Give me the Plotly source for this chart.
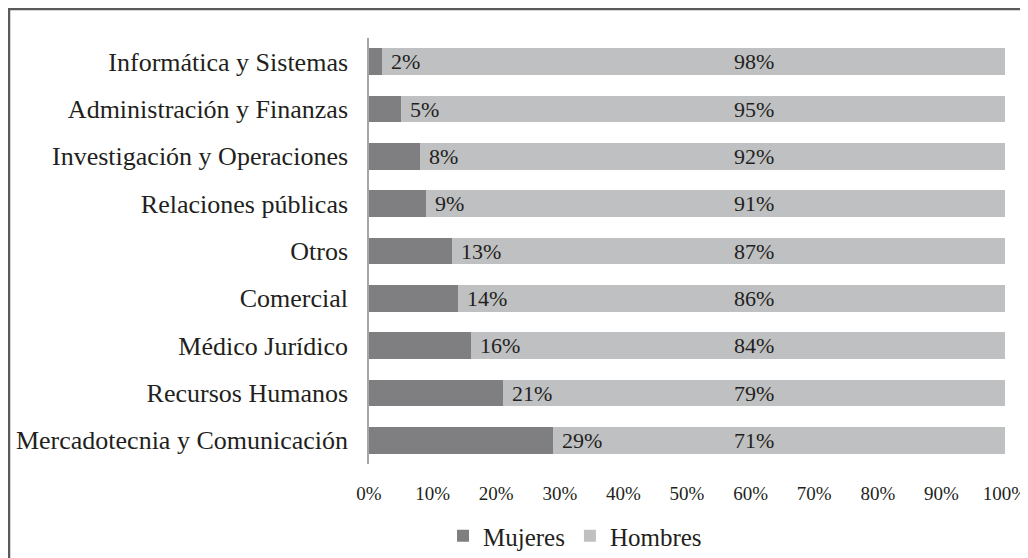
import plotly.graph_objects as go

categories = ["Informática y Sistemas", "Administración y Finanzas", "Investigación y Operaciones",
              "Relaciones públicas", "Otros", "Comercial", "Médico Jurídico", "Recursos Humanos",
              "Mercadotecnia y Comunicación"]
mujeres = [2, 5, 8, 9, 13, 14, 16, 21, 29]
hombres = [98, 95, 92, 91, 87, 86, 84, 79, 71]
tick_vals = [0, 10, 20, 30, 40, 50, 60, 70, 80, 90, 100]
tick_text = [f"{v}%" for v in tick_vals]

FONT = "Liberation Serif"
TXT = "#231f20"
C_M = "#7f7f81"
C_H = "#bfc0c2"
OFF = 8  # page body margin
W, H = 1028 - OFF, 558 - OFF
L, R, T, B = 369 - OFF, 23, 38 - OFF, 94
HOMBRES_LABEL_X = 60.5

fig = go.Figure()
fig.add_trace(go.Bar(y=categories, x=mujeres, name="Mujeres", orientation="h",
                     marker=dict(color=C_M, line_width=0)))
fig.add_trace(go.Bar(y=categories, x=hombres, name="Hombres", orientation="h",
                     marker=dict(color=C_H, line_width=0)))

ann = []
for c, m, h in zip(categories, mujeres, hombres):
    ann.append(dict(x=m, y=c, text=f"{m}%", showarrow=False, xanchor="left", xshift=7,
                    font=dict(family=FONT, size=22, color=TXT)))
    ann.append(dict(x=HOMBRES_LABEL_X, y=c, text=f"{h}%", showarrow=False, xanchor="center",
                    font=dict(family=FONT, size=22, color=TXT)))

pw = W - L - R
ph = H - T - B
fig.update_layout(
    width=W, height=H,
    margin=dict(l=L, r=R, t=T, b=B, autoexpand=False),
    barmode="stack", bargap=0.43,
    plot_bgcolor="white", paper_bgcolor="white",
    font=dict(family=FONT, color=TXT),
    annotations=ann,
    xaxis=dict(range=[0, 100], tickvals=tick_vals, ticktext=tick_text, showgrid=False, automargin=False,
               zeroline=False, showline=False, ticks="outside", ticklen=12, tickcolor="rgba(0,0,0,0)",
               tickfont=dict(family=FONT, size=19, color=TXT)),
    yaxis=dict(autorange="reversed", showgrid=False, showline=True, linecolor="#a6a6a6", linewidth=1.5,
               automargin=False, ticks="outside", ticklen=14, tickcolor="rgba(0,0,0,0)",
               tickfont=dict(family=FONT, size=26, color=TXT)),
    legend=dict(orientation="h", x=(443 - OFF - L) / pw, xanchor="left",
                y=-(536 - OFF - (H - B)) / ph,
                yanchor="middle", font=dict(family=FONT, size=25, color=TXT), traceorder="normal",
                itemwidth=30),
    shapes=[dict(type="rect", xref="paper", yref="paper",
                 x0=(1 - L) / pw, x1=(W + 20 - L) / pw,
                 y0=-(H + 20 - (H - B)) / ph, y1=(H - 1 - B) / ph,
                 line=dict(color="#5a5a5a", width=2.5), fillcolor="rgba(0,0,0,0)", layer="below")],
)
fig.write_html("out.html")
